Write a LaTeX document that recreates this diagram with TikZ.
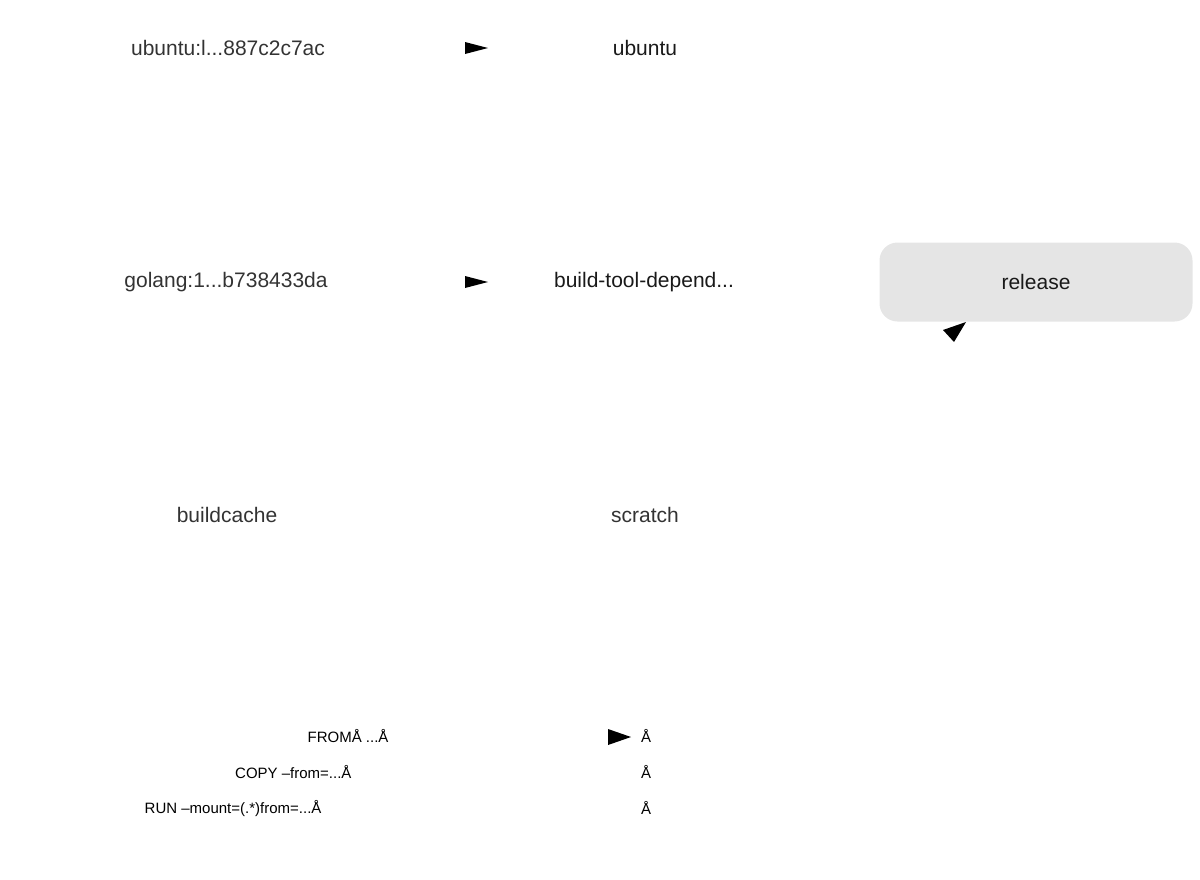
\documentclass[tikz,border=0pt]{standalone}
\usepackage{fontspec}
\setmainfont{Liberation Sans}
\begin{document}
\begin{tikzpicture}[x=1pt,y=-1pt,
                    font=\fontsize{21}{25}\selectfont,
                    stage/.style={text=black!80},
                    used/.style={text=black!90},
                    legend/.style={font=\fontsize{15}{18}\selectfont,text=black}
                    ]
\useasboundingbox (0,0) rectangle (1200,879);

% stages
\node[stage] (ubuntuimg) at (228,48) {ubuntu:l...887c2c7ac};
\node[used] (ubuntu) at (645,48) {ubuntu};
\node[stage] (golangimg) at (226,282) {golang:1...b738433da};
\node[used] (buildtool) at (644,282) {build-tool-depend...};
\node[used,fill=black!10,rounded corners=18pt,minimum width=313pt,minimum height=79pt] (release) at (1036,282) {release};
\node[stage] (buildcache) at (227,515) {buildcache};
\node[stage] (scratch) at (645,515) {scratch};

% heads
\fill (465,42) -- (488,48) -- (465,54) -- cycle;
\fill (465,276) -- (488,282) -- (465,288) -- cycle;
\fill (943,330) -- (966,322) -- (954,342) -- cycle;

% legend
\node[legend,anchor=east] (lfrom) at (392,736) {FROMÅ ...Å};
\node[legend,anchor=east] (lcopy) at (355,772) {COPY --from=...Å};
\node[legend,anchor=east] (lrun) at (325,808) {RUN --mount=(.*)from=...Å};
\node[legend] (rfrom) at (646,736) {Å};
\node[legend] (rcopy) at (646,772) {Å};
\node[legend] (rrun) at (646,808) {Å};
\fill (608,729) -- (631,737) -- (608,745) -- cycle;
\end{tikzpicture}
\end{document}
